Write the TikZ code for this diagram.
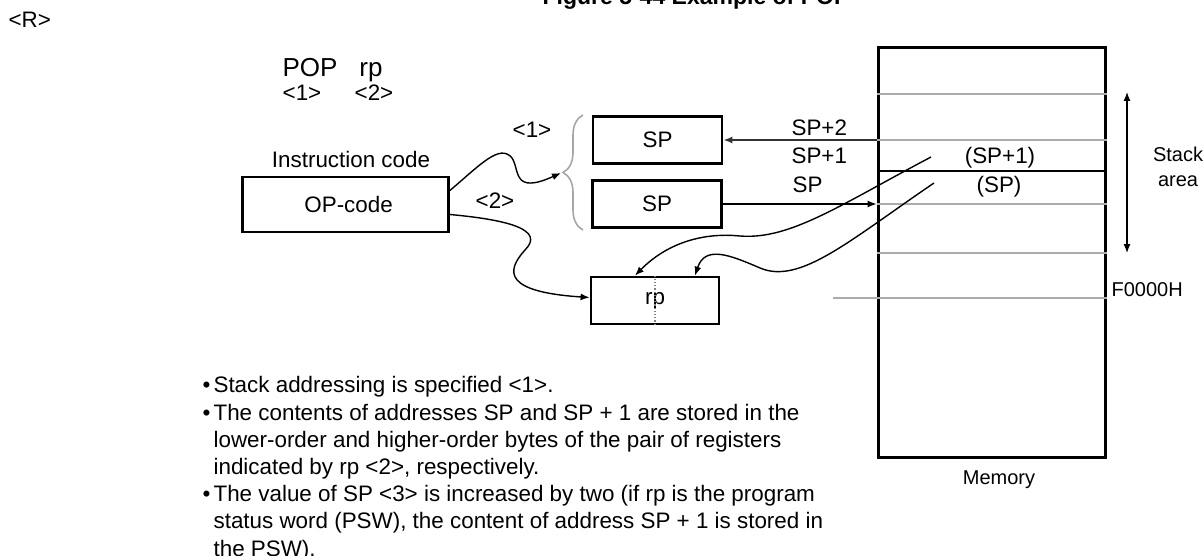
\documentclass[tikz,border=0pt]{standalone}
\usepackage{fontspec}
\setmainfont{Liberation Sans}
\usepackage{tikz}
\usetikzlibrary{arrows.meta,decorations.pathreplacing}
\newcommand{\bul}{\makebox[5.5pt][l]{\textbullet}}
\newcommand{\ind}{\hspace*{5.5pt}}

\begin{document}
\begin{tikzpicture}[x=0.5pt, y=-0.5pt, >={Latex[length=4.5pt,width=3.5pt]}, semithick,
  box/.style={draw, line width=1.4pt, inner sep=0pt, minimum height=23.5pt, minimum width=64.5pt,
    font=\fontsize{11.2}{13.6}\selectfont},
  row/.style={draw=gray!65, line width=1pt},
  wire/.style={->, line width=0.7pt},
  txt/.style={inner sep=0pt, font=\fontsize{11.2}{13.6}\selectfont},
  small/.style={inner sep=0pt, font=\fontsize{10}{12.5}\selectfont}]
%
\useasboundingbox (0,0) rectangle (1204,556);
%
\node (R) [txt, anchor=west] at (8,20) {<R>};
\node (T) [txt, anchor=base, font=\fontsize{11.5}{13}\selectfont\bfseries] at (696,5) {Figure 5-44 Example of POP};
%
\node (POP) [txt, anchor=base west, font=\fontsize{13}{15}\selectfont] at (282,77) {POP};
\node (RPtxt) [txt, anchor=base, font=\fontsize{13}{15}\selectfont] at (371,77) {rp};
\node (N1) [txt, anchor=base] at (302,101) {<1>};
\node (N2) [txt, anchor=base] at (374,101) {<2>};
%
\node (IC) [txt, anchor=base] at (351,167) {Instruction code};
\node (OP) [box, minimum width=103pt, minimum height=27.5pt] at (345.5,204.5) {\ OP-code};
%
\node (SP1) [box] at (657.5,140) {SP};
\node (SP0) [box] at (657,204) {SP};
\node (RP) [box, minimum width=64pt] at (655,300.5) {rp};
\draw[densely dotted, gray] (RP.north) -- (RP.south);
%
\node (MEM) [draw, line width=1.5pt, inner sep=0pt, minimum width=113.5pt, minimum height=204.5pt] at (991.5,252.5) {};
\node (MLBL) [small, anchor=base] at (999,484) {Memory};
%
\foreach \y in {94,140,204,253}
  \draw[row] (MEM.west |- 0,\y) -- (MEM.east |- 0,\y);
\draw[line width=1pt] (MEM.west |- 0,171) -- (MEM.east |- 0,171);
\draw[row] (833,298) -- (MEM.east |- 0,298);
%
\node (L2) [txt, anchor=base west] at (791,135) {SP+2};
\node (L1) [txt, anchor=base west] at (791,163) {SP+1};
\node (L0) [txt, anchor=base west] at (792,192) {SP};
\node (C1) [txt, anchor=base] at (1000,163) {(SP+1)};
\node (C0) [txt, anchor=base] at (999,192) {(SP)};
%
\node (FH) [small, anchor=base west] at (1111,296) {F0000H};
\node (SA) [small, anchor=north, align=center] at (1178,146) {Stack\\area};
\coordinate (SAt) at (1127,92);
\coordinate (SAb) at (1127,253);
\draw[<->, line width=0.6pt] (SAt) -- (SAb);
%
\draw[gray!70, line width=0.8pt, decorate, decoration={brace, amplitude=10pt}] (583,230) -- (583,115);
\coordinate (BR) at (561,173);
\node (K1) [txt, anchor=base] at (532,138) {<1>};
\node (K2) [txt, anchor=base] at (495,208) {<2>};
%
\draw[wire] ([yshift=7pt]OP.east) .. controls (480,165) and (500,143) .. (512,158)
  .. controls (520,170) and (512,195) .. (BR);
\draw[wire] ([yshift=-5pt]OP.east) .. controls (510,220) and (545,230) .. (525,250)
  .. controls (505,272) and (505,292) .. ([yshift=1.5pt]RP.west);
%
\draw[->, gray!40!black, line width=0.8pt] (SP1.east -| MEM.west) -- (SP1.east);
\draw[->, line width=0.6pt] (SP0.east) -- (SP0.east -| MEM.west);
%
\coordinate (D1) at (931,157);
\coordinate (D0) at (934,183);
\draw[wire] (D1) .. controls (840,205) and (790,240) .. (740,236)
  .. controls (700,232) and (665,245) .. ([xshift=-10pt]RP.north);
\draw[wire] (D0) .. controls (850,240) and (800,285) .. (760,268)
  .. controls (730,255) and (705,245) .. ([xshift=20pt]RP.north);
%
\node (NOTE) [txt, anchor=north west, align=left] at (202,376) {%
\bul Stack addressing is specified <1>.\\
\bul The contents of addresses SP and SP + 1 are stored in the\\
\ind lower-order and higher-order bytes of the pair of registers\\
\ind indicated by rp <2>, respectively.\\
\bul The value of SP <3> is increased by two (if rp is the program\\
\ind status word (PSW), the content of address SP + 1 is stored in\\
\ind the PSW).};
\end{tikzpicture}
\end{document}
